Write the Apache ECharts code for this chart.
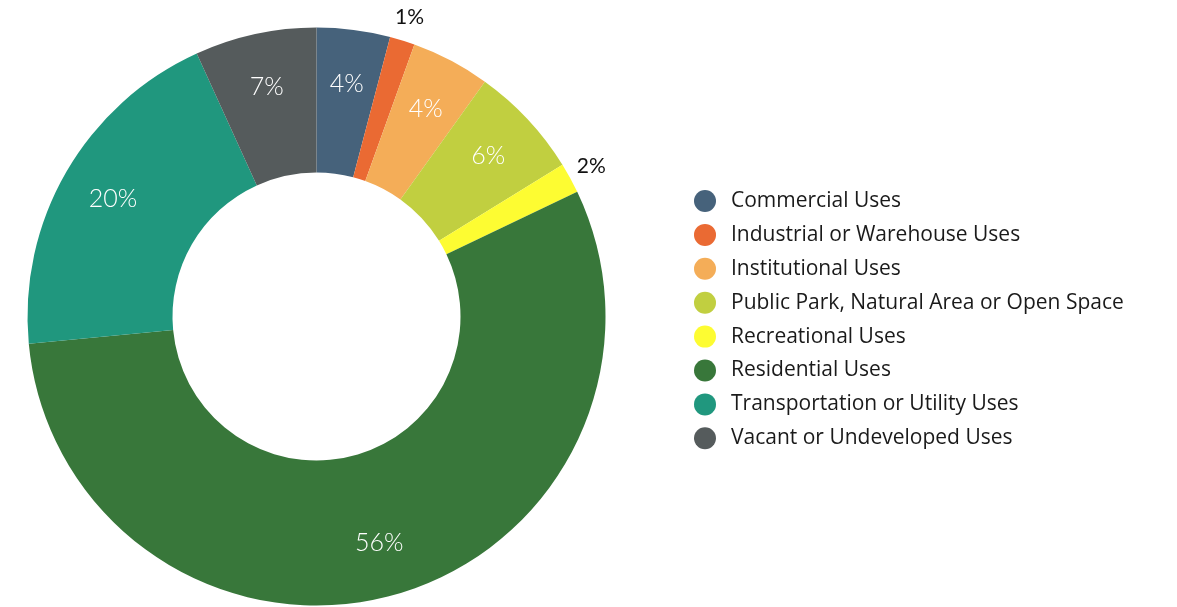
<!DOCTYPE html>
<html>
<head>
<meta charset="utf-8">
<script src="https://cdn.jsdelivr.net/npm/echarts@6/dist/echarts.min.js"></script>
<style>
html,body{margin:0;padding:0;background:#fff;}
#chart{width:1177px;height:607px;}
</style>
</head>
<body>
<div id="chart"></div>
<script>
const categories = [
  'Commercial Uses',
  'Industrial or Warehouse Uses',
  'Institutional Uses',
  'Public Park, Natural Area or Open Space',
  'Recreational Uses',
  'Residential Uses',
  'Transportation or Utility Uses',
  'Vacant or Undeveloped Uses'
];
const values = [4.1, 1.4, 4.4, 6.3, 1.7, 55.6, 19.7, 6.8];
const colors = ['#46627b', '#ea6a33', '#f4ad58', '#c1cf40', '#fdfc32', '#38773a', '#20977e', '#555b5c'];
const outsideLabel = [false, true, false, false, true, false, false, false];

const FONT = 'Lato, "Open Sans", sans-serif';
const LEGEND_FONT = '"Open Sans", Lato, sans-serif';
const center = [316.5, 316.5];
const pct = p => Math.round(p.percent) + '%';

const mainData = categories.map((n, i) => ({ name: n, value: values[i], itemStyle: { color: colors[i] } }));
const insideData = categories.map((n, i) => ({ name: n, value: values[i], label: { show: !outsideLabel[i] } }));
const outsideData = categories.map((n, i) => ({ name: n, value: values[i], label: { show: outsideLabel[i] } }));

const chart = echarts.init(document.getElementById('chart'), null, { renderer: 'canvas' });
chart.setOption({
  animation: false,
  backgroundColor: '#ffffff',
  color: colors,
  legend: {
    data: categories,
    orient: 'vertical',
    left: 689,
    top: 185,
    icon: 'circle',
    itemWidth: 22,
    itemHeight: 22,
    itemGap: 11.9,
    selectedMode: false,
    textStyle: { fontFamily: LEGEND_FONT, fontSize: 21, color: '#1a1a1a', padding: [0, 0, 0, 10] }
  },
  series: [
    {
      type: 'pie',
      center: center,
      radius: [144, 289],
      startAngle: 90,
      clockwise: true,
      silent: true,
      label: { show: false },
      labelLine: { show: false },
      data: mainData
    },
    {
      type: 'pie',
      center: center,
      radius: [175, 289],
      startAngle: 90,
      silent: true,
      legendHoverLink: false,
      itemStyle: { color: 'rgba(0,0,0,0)' },
      label: { show: true, position: 'inside', formatter: pct, color: '#ffffff', fontFamily: FONT, fontSize: 25, fontWeight: 300 },
      labelLine: { show: false },
      data: insideData
    },
    {
      type: 'pie',
      center: center,
      radius: [296, 324],
      startAngle: 90,
      silent: true,
      legendHoverLink: false,
      itemStyle: { color: 'rgba(0,0,0,0)' },
      label: { show: true, position: 'inside', formatter: pct, color: '#111111', fontFamily: FONT, fontSize: 21 },
      labelLine: { show: false },
      data: outsideData
    }
  ]
});
</script>
</body>
</html>
